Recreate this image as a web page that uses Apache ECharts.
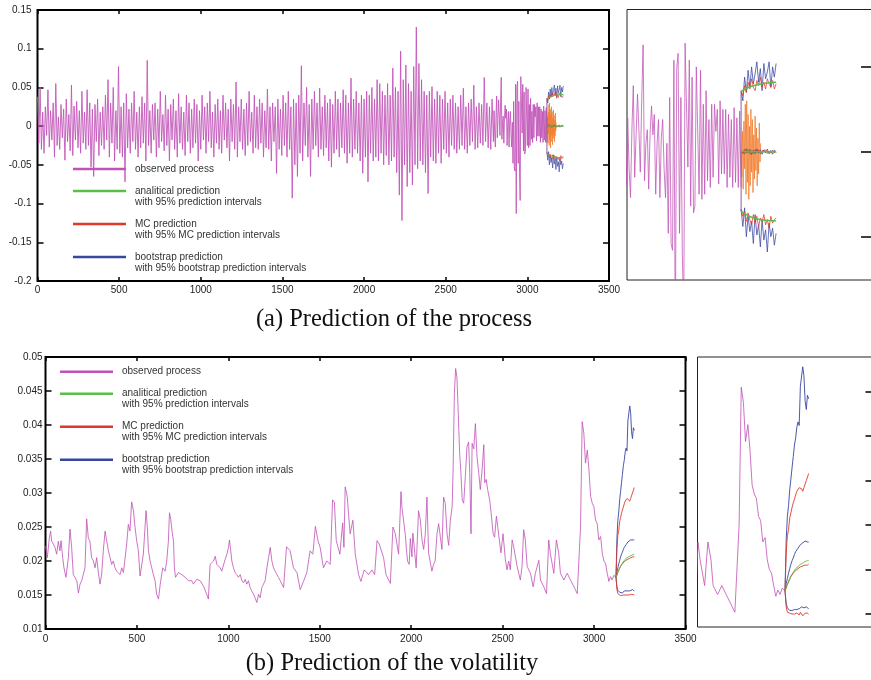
<!DOCTYPE html>
<html>
<head>
<meta charset="utf-8">
<script src="https://cdn.jsdelivr.net/npm/echarts@6/dist/echarts.min.js"></script>
<style>
  html, body { margin: 0; padding: 0; background: #fff; }
  #chart { width: 871px; height: 680px; }
</style>
</head>
<body>
<div id="chart"></div>
<script>
// ---------- (a) observed process ----------
// returns sampled every 8 steps from t = 0 to t = 2792
const processEarlyStep = 8;
const processEarly = [
  0.038, -0.022, 0.050, -0.030, 0.018, -0.035, 0.025, -0.012, 0.047, -0.027,
  0.020, -0.018, 0.030, -0.040, 0.055, -0.025, 0.012, -0.030, 0.028, -0.015,
  0.022, -0.044, 0.035, -0.020, 0.015, -0.032, 0.053, -0.038, 0.026, -0.018,
  0.032, -0.028, 0.020, -0.035, 0.045, -0.022, 0.018, -0.030, 0.047, -0.025,
  0.030, -0.053, 0.022, -0.065, 0.028, -0.020, 0.035, -0.038, 0.018, -0.025,
  0.025, -0.030, 0.040, -0.018, 0.060, -0.040, 0.030, -0.022, 0.050, -0.045,
  0.020, -0.030, 0.077, -0.035, 0.025, -0.040, 0.030, -0.072, 0.042, -0.028,
  0.022, -0.035, 0.030, -0.020, 0.045, -0.030, 0.018, -0.040, 0.025, -0.028,
  0.038, -0.022, 0.030, -0.045, 0.085, -0.025, 0.020, -0.035, 0.028, -0.018,
  0.030, -0.040, 0.022, -0.028, 0.045, -0.020, 0.015, -0.032, 0.040, -0.025,
  0.022, -0.045, 0.028, -0.018, 0.035, -0.030, 0.020, -0.040, 0.042, -0.022,
  0.025, -0.030, 0.018, -0.038, 0.040, -0.020, 0.030, -0.035, 0.022, -0.028,
  0.035, -0.022, 0.028, -0.045, 0.020, -0.030, 0.040, -0.018, 0.025, -0.035,
  0.030, -0.020, 0.045, -0.028, 0.018, -0.040, 0.028, -0.022, 0.035, -0.030,
  0.020, -0.035, 0.040, -0.018, 0.030, -0.028, 0.022, -0.045, 0.035, -0.020,
  0.028, -0.030, 0.057, -0.040, 0.025, -0.020, 0.035, -0.030, 0.022, -0.038,
  0.030, -0.025, 0.045, -0.020, 0.018, -0.035, 0.040, -0.028, 0.025, -0.030,
  0.035, -0.022, 0.030, -0.040, 0.020, -0.028, 0.048, -0.030, 0.025, -0.045,
  0.030, -0.020, 0.025, -0.061, 0.035, -0.030, 0.022, -0.038, 0.040, -0.025,
  0.030, -0.040, 0.045, -0.030, 0.025, -0.093, 0.035, -0.050, 0.030, -0.065,
  0.040, -0.035, 0.078, -0.045, 0.030, -0.025, 0.050, -0.040, 0.028, -0.065,
  0.035, -0.030, 0.045, -0.025, 0.030, -0.040, 0.049, -0.030, 0.025, -0.038,
  0.040, -0.028, 0.030, -0.045, 0.035, -0.053, 0.028, -0.035, 0.045, -0.030,
  0.035, -0.040, 0.030, -0.028, 0.047, -0.035, 0.040, -0.048, 0.030, -0.035,
  0.062, -0.040, 0.035, -0.030, 0.045, -0.035, 0.030, -0.045, 0.040, -0.061,
  0.035, -0.040, 0.045, -0.072, 0.040, -0.035, 0.050, -0.045, 0.035, -0.040,
  0.060, -0.045, 0.055, -0.035, 0.045, -0.050, 0.040, -0.038, 0.055, -0.050,
  0.040, -0.045, 0.075, -0.040, 0.050, -0.060, 0.045, -0.089, 0.097, -0.122,
  0.060, -0.050, 0.079, -0.078, 0.055, -0.060, 0.045, -0.076, 0.077, -0.050,
  0.128, -0.055, 0.081, -0.045, 0.060, -0.050, 0.045, -0.060, 0.040, -0.087,
  0.045, -0.040, 0.051, -0.045, 0.035, -0.048, 0.045, -0.035, 0.040, -0.048,
  0.035, -0.030, 0.045, -0.035, 0.030, -0.040, 0.035, -0.025, 0.040, -0.030,
  0.030, -0.035, 0.025, -0.030, 0.040, -0.025, 0.049, -0.030, 0.025, -0.035,
  0.030, -0.025, 0.035, -0.020, 0.053, -0.030, 0.025, -0.028, 0.030, -0.022,
  0.028, -0.025, 0.063, -0.020, 0.030, -0.028, 0.025, -0.030, 0.035, -0.020
];
// returns sampled every 4 steps from t = 2796 to t = 3120
const processLateStart = 2796;
const processLateStep = 4;
const processLate = [
  0.020, -0.010, -0.027, 0.013, 0.039, -0.015, 0.010, 0.034, 0.013, -0.012,
  0.030, 0.063, -0.017, 0.005, 0.013, -0.022, 0.011, 0.027, 0.010, 0.022,
  -0.025, 0.005, 0.019, -0.027, 0.008, 0.019, -0.010, -0.027, 0.005, -0.048,
  0.032, -0.054, -0.058, 0.054, -0.113, 0.049, 0.058, -0.048, 0.032, -0.060,
  -0.096, 0.064, 0.064, -0.009, 0.054, -0.032, 0.044, -0.036, -0.032, 0.050,
  0.050, -0.025, 0.048, -0.028, 0.028, -0.025, 0.036, -0.017, 0.019, -0.021,
  0.028, -0.015, 0.028, 0.012, 0.025, -0.019, 0.030, -0.013, 0.025, -0.013,
  0.025, -0.021, 0.022, -0.015, 0.019, -0.021, 0.026, -0.018, 0.020, -0.021,
  0.024, -0.021
];

// ---------- (a) forecasts, t = 3120 ... 3220 every 5 steps ----------
const predStart = 3120;
const predStep = 5;
const procAnalyticMean  = [0.0004, 0.0003, 0.0002, 0.0002, 0.0001, 0.0001, 0.0001, 0, 0, 0, 0, 0, 0, 0, 0, 0, 0, 0, 0, 0, 0];
const procAnalyticUpper = [0.0355, 0.0362, 0.0368, 0.0373, 0.0378, 0.0382, 0.0386, 0.0389, 0.0392, 0.0395, 0.0397, 0.0399, 0.0401, 0.0403, 0.0404, 0.0406, 0.0407, 0.0408, 0.0409, 0.0410, 0.0410];
const procAnalyticLower = [-0.0350, -0.0358, -0.0365, -0.0371, -0.0376, -0.0381, -0.0385, -0.0389, -0.0392, -0.0395, -0.0397, -0.0399, -0.0401, -0.0402, -0.0403, -0.0404, -0.0405, -0.0405, -0.0406, -0.0406, -0.0406];
const procMcMean  = [0.0004, -0.0010, 0.0015, -0.0008, 0.0012, -0.0014, 0.0006, -0.0009, 0.0013, -0.0005, 0.0010, -0.0012, 0.0007, -0.0004, 0.0011, -0.0010, 0.0005, -0.0008, 0.0009, -0.0006, 0.0004];
const procMcUpper = [0.036, 0.033, 0.039, 0.035, 0.041, 0.037, 0.043, 0.038, 0.036, 0.042, 0.039, 0.044, 0.038, 0.041, 0.037, 0.043, 0.040, 0.038, 0.042, 0.037, 0.040];
const procMcLower = [-0.034, -0.038, -0.035, -0.041, -0.036, -0.040, -0.043, -0.037, -0.042, -0.038, -0.044, -0.039, -0.041, -0.037, -0.043, -0.040, -0.045, -0.038, -0.042, -0.040, -0.039];
const procBootMean  = [0.0004, 0.0015, -0.0012, 0.0018, -0.0006, 0.0014, -0.0016, 0.0009, -0.0011, 0.0017, -0.0008, 0.0012, -0.0015, 0.0010, -0.0007, 0.0016, -0.0012, 0.0008, -0.0014, 0.0011, -0.0005];
const procBootUpper = [0.036, 0.030, 0.044, 0.035, 0.048, 0.038, 0.050, 0.040, 0.046, 0.053, 0.041, 0.049, 0.036, 0.052, 0.043, 0.047, 0.053, 0.038, 0.050, 0.044, 0.052];
const procBootLower = [-0.034, -0.044, -0.033, -0.050, -0.038, -0.047, -0.041, -0.054, -0.037, -0.049, -0.043, -0.056, -0.040, -0.052, -0.046, -0.059, -0.042, -0.050, -0.045, -0.055, -0.048];
// simulated Monte Carlo path, every 2 steps from t = 3120
const mcPathStep = 2;
const procMcPath = [0.000, -0.015, 0.012, -0.022, 0.018, -0.010, 0.028, -0.025, 0.030, -0.018,
  0.022, -0.028, 0.015, -0.020, 0.025, -0.012, 0.019, -0.024, 0.010, -0.016,
  0.021, -0.011, 0.014, -0.020, 0.008, -0.013, 0.017, -0.006, 0.005];

// ---------- (b) observed volatility ----------
const volT = [
  0, 10, 21, 28, 34, 43, 52, 61, 70, 79,
  85, 94, 101, 112, 125, 134, 143, 152, 161, 171,
  180, 189, 198, 207, 216, 225, 234, 243, 252, 262,
  271, 280, 289, 298, 307, 316, 326, 335, 344, 353,
  362, 371, 380, 389, 408, 417, 426, 444, 453, 462,
  471, 481, 490, 499, 508, 517, 526, 535, 550, 557,
  563, 572, 581, 590, 599, 608, 618, 627, 641, 654,
  663, 672, 678, 685, 692, 700, 705, 711, 727, 745,
  764, 782, 800, 809, 827, 846, 864, 882, 891, 900,
  919, 928, 937, 955, 964, 982, 992, 1001, 1006, 1013,
  1019, 1028, 1037, 1046, 1055, 1065, 1074, 1083, 1092, 1101,
  1110, 1119, 1128, 1138, 1147, 1156, 1165, 1174, 1183, 1192,
  1201, 1211, 1220, 1229, 1238, 1247, 1256, 1265, 1274, 1284,
  1293, 1302,
  1318, 1338, 1356, 1375, 1393, 1411, 1429,
  1447, 1462, 1476, 1490, 1502, 1520, 1538, 1557, 1570, 1580,
  1590, 1610, 1625, 1632, 1639, 1650, 1657, 1666, 1681, 1694,
  1712, 1725, 1743, 1767, 1785, 1800, 1813, 1825, 1849, 1862,
  1886, 1900, 1913, 1931, 1944, 1950, 1959, 1968, 1973, 1980,
  1989, 1995, 2004, 2009, 2016, 2027, 2040, 2050, 2059, 2068,
  2077, 2086, 2095, 2104, 2113, 2122, 2131, 2141, 2150, 2159,
  2168, 2177, 2186, 2196, 2205, 2214, 2224, 2229, 2236, 2243,
  2250, 2256, 2265, 2272, 2279, 2287, 2296, 2305, 2314, 2320,
  2327, 2333, 2342, 2351, 2360, 2369, 2378, 2388, 2397, 2402,
  2410, 2418, 2429, 2437, 2448, 2456, 2466, 2474, 2482, 2491,
  2502, 2515, 2524, 2533, 2542, 2552, 2561, 2570, 2579, 2588,
  2597, 2606, 2615, 2624, 2634, 2652, 2667, 2679, 2698, 2707,
  2725, 2740, 2752, 2761, 2780, 2794, 2807, 2816, 2835, 2853,
  2871, 2890, 2908, 2926, 2935, 2944, 2953, 2963, 2972, 2981,
  2990, 2999, 3008, 3017, 3026, 3036, 3045, 3054, 3063, 3072,
  3081, 3090, 3099, 3108, 3117, 3120
];
const volV = [
  0.0222, 0.0205, 0.0234, 0.0244, 0.0229, 0.0225, 0.0220, 0.0210, 0.0229, 0.0215,
  0.0230, 0.0205, 0.0190, 0.0176, 0.0205, 0.0247, 0.0220, 0.0180, 0.0176, 0.0171,
  0.0153, 0.0166, 0.0171, 0.0171, 0.0190, 0.0262, 0.0234, 0.0229, 0.0205, 0.0200,
  0.0190, 0.0205, 0.0183, 0.0166, 0.0180, 0.0215, 0.0244, 0.0229, 0.0215, 0.0205,
  0.0195, 0.0200, 0.0190, 0.0185, 0.0180, 0.0190, 0.0183, 0.0225, 0.0254, 0.0244,
  0.0287, 0.0274, 0.0249, 0.0229, 0.0215, 0.0178, 0.0176, 0.0210, 0.0274, 0.0249,
  0.0215, 0.0200, 0.0190, 0.0180, 0.0171, 0.0151, 0.0144, 0.0165, 0.0190, 0.0185,
  0.0200, 0.0229, 0.0271, 0.0261, 0.0244, 0.0229, 0.0190, 0.0176, 0.0183, 0.0180,
  0.0176, 0.0171, 0.0171, 0.0166, 0.0173, 0.0171, 0.0163, 0.0151, 0.0144, 0.0195,
  0.0200, 0.0207, 0.0195, 0.0190, 0.0185, 0.0202, 0.0210, 0.0220, 0.0231, 0.0215,
  0.0200, 0.0190, 0.0183, 0.0180, 0.0176, 0.0180, 0.0171, 0.0168, 0.0173, 0.0166,
  0.0171, 0.0161, 0.0156, 0.0151, 0.0149, 0.0139, 0.0151, 0.0146, 0.0161, 0.0166,
  0.0171, 0.0190, 0.0205, 0.0220, 0.0200, 0.0190, 0.0185, 0.0180, 0.0176, 0.0171,
  0.0166, 0.0161,
  0.0221, 0.0215, 0.0190, 0.0183, 0.0158, 0.0170, 0.0183,
  0.0215, 0.0210, 0.0251, 0.0230, 0.0220, 0.0190, 0.0200, 0.0195, 0.0290, 0.0286,
  0.0230, 0.0210, 0.0256, 0.0220, 0.0309, 0.0295, 0.0270, 0.0240, 0.0260, 0.0210,
  0.0180, 0.0170, 0.0187, 0.0180, 0.0187, 0.0180, 0.0230, 0.0225, 0.0205, 0.0180,
  0.0167, 0.0250, 0.0240, 0.0210, 0.0302, 0.0277, 0.0258, 0.0238, 0.0220, 0.0200,
  0.0195, 0.0233, 0.0206, 0.0241, 0.0222, 0.0190, 0.0274, 0.0260, 0.0231, 0.0217,
  0.0240, 0.0294, 0.0212, 0.0212, 0.0185, 0.0195, 0.0200, 0.0240, 0.0255, 0.0236,
  0.0217, 0.0294, 0.0285, 0.0240, 0.0223, 0.0260, 0.0280, 0.0334, 0.0446, 0.0483,
  0.0470, 0.0427, 0.0358, 0.0329, 0.0290, 0.0285, 0.0324, 0.0368, 0.0375, 0.0330,
  0.0240, 0.0373, 0.0365, 0.0402, 0.0353, 0.0330, 0.0305, 0.0335, 0.0371, 0.0315,
  0.0320, 0.0305, 0.0290, 0.0271, 0.0240, 0.0235, 0.0266, 0.0266, 0.0231, 0.0212,
  0.0240, 0.0202, 0.0187, 0.0200, 0.0187, 0.0231, 0.0220, 0.0220, 0.0192, 0.0182,
  0.0172, 0.0192, 0.0246, 0.0231, 0.0192, 0.0182, 0.0162, 0.0182, 0.0201, 0.0172,
  0.0162, 0.0152, 0.0231, 0.0211, 0.0182, 0.0231, 0.0211, 0.0182, 0.0172, 0.0182,
  0.0172, 0.0162, 0.0152, 0.0250, 0.0405, 0.0388, 0.0344, 0.0363, 0.0334, 0.0295,
  0.0285, 0.0280, 0.0260, 0.0255, 0.0231, 0.0236, 0.0211, 0.0200, 0.0196, 0.0182,
  0.0170, 0.0177, 0.0172, 0.0179, 0.0177, 0.0176
];

// ---------- (b) forecasts, t = 3120 ... 3220 every 5 steps ----------
const volAnalyticMean = [0.0176, 0.0180, 0.0184, 0.0187, 0.0190, 0.0193, 0.0195, 0.0197, 0.0199, 0.0201, 0.0202, 0.0203, 0.0205, 0.0206, 0.0207, 0.0207, 0.0208, 0.0209, 0.0209, 0.0210, 0.0210];
const volMcMean  = [0.0176, 0.0179, 0.0183, 0.0186, 0.0189, 0.0192, 0.0194, 0.0196, 0.0198, 0.0199, 0.0200, 0.0201, 0.0202, 0.0203, 0.0204, 0.0204, 0.0205, 0.0205, 0.0206, 0.0205, 0.0206];
const volMcUpper = [0.0176, 0.0218, 0.0238, 0.0245, 0.0258, 0.0264, 0.0270, 0.0275, 0.0279, 0.0284, 0.0288, 0.0290, 0.0292, 0.0294, 0.0291, 0.0288, 0.0292, 0.0294, 0.0300, 0.0298, 0.0308];
const volMcLower = [0.0176, 0.0158, 0.0152, 0.0150, 0.0151, 0.0149, 0.0150, 0.0148, 0.0150, 0.0149, 0.0151, 0.0150, 0.0149, 0.0152, 0.0150, 0.0148, 0.0150, 0.0151, 0.0149, 0.0151, 0.0150];
const volBootMean  = [0.0176, 0.0184, 0.0190, 0.0196, 0.0201, 0.0206, 0.0210, 0.0213, 0.0217, 0.0220, 0.0222, 0.0224, 0.0226, 0.0228, 0.0229, 0.0230, 0.0231, 0.0232, 0.0232, 0.0231, 0.0231];
const volBootUpper = [0.0176, 0.0233, 0.0260, 0.0272, 0.0290, 0.0302, 0.0315, 0.0327, 0.0340, 0.0348, 0.0360, 0.0366, 0.0362, 0.0406, 0.0404, 0.0428, 0.0418, 0.0390, 0.0380, 0.0396, 0.0392];
const volBootLower = [0.0176, 0.0162, 0.0157, 0.0155, 0.0154, 0.0155, 0.0154, 0.0153, 0.0155, 0.0156, 0.0155, 0.0157, 0.0156, 0.0158, 0.0158, 0.0156, 0.0157, 0.0155, 0.0158, 0.0157, 0.0156];

// ---------- legend text ----------
const seriesNames = ['observed process', 'analitical prediction', 'MC prediction', 'bootstrap prediction'];
const legendNotes = {
  'analitical prediction': 'with 95% prediction intervals',
  'MC prediction': 'with 95% MC prediction intervals',
  'bootstrap prediction': 'with 95% bootstrap prediction intervals'
};
const pathName = 'MC simulated path';
const captions = ['(a) Prediction of the process', '(b) Prediction of the volatility'];

// ---------- drawing ----------
const COLORS = {
  observed: '#c152b7',
  analytic: '#5abf46',
  mc: '#e0392b',
  boot: '#3846a0',
  path: '#f07a2a',
  joint: '#8d5c9c'
};
const SANS = '"Liberation Sans", Arial, Helvetica, sans-serif';
const SERIF = '"Liberation Serif", "Times New Roman", serif';

function pairs(values, start, step) {
  return values.map((v, i) => [start + i * step, v]);
}
const procObserved = pairs(processEarly, 0, processEarlyStep)
  .concat(pairs(processLate, processLateStart, processLateStep));
const volObserved = volT.map((t, i) => [t, volV[i]]);
const pred = arr => pairs(arr, predStart, predStep);

function line(name, data, axis, color, width, opacity) {
  return {
    type: 'line', name: name, data: data,
    xAxisIndex: axis, yAxisIndex: axis,
    symbol: 'none', showSymbol: false, silent: true, clip: true,
    animation: false,
    lineStyle: { color: color, width: width, opacity: opacity == null ? 1 : opacity },
    itemStyle: { color: color },
    emphasis: { disabled: true }
  };
}

function processSeries(axis, inset) {
  const w = inset ? 0.9 : 0.8;
  return [
    line(seriesNames[0], procObserved, axis, COLORS.observed, inset ? 0.9 : 1.0, 0.85),
    line(pathName, pairs(procMcPath, predStart, mcPathStep), axis, COLORS.path, w, 0.85),
    line(seriesNames[0], [[predStart, procAnalyticUpper[0]], [predStart, procAnalyticLower[0]]], axis, COLORS.joint, 1),
    line(seriesNames[3], pred(procBootUpper), axis, COLORS.boot, w, 0.85),
    line(seriesNames[3], pred(procBootMean), axis, COLORS.boot, w, 0.85),
    line(seriesNames[3], pred(procBootLower), axis, COLORS.boot, w, 0.85),
    line(seriesNames[2], pred(procMcUpper), axis, COLORS.mc, w, 0.85),
    line(seriesNames[2], pred(procMcMean), axis, COLORS.mc, w, 0.85),
    line(seriesNames[2], pred(procMcLower), axis, COLORS.mc, w, 0.85),
    line(seriesNames[1], pred(procAnalyticUpper), axis, COLORS.analytic, inset ? 1.6 : 1),
    line(seriesNames[1], pred(procAnalyticMean), axis, COLORS.analytic, inset ? 1.6 : 1),
    line(seriesNames[1], pred(procAnalyticLower), axis, COLORS.analytic, inset ? 1.6 : 1)
  ];
}

function volatilitySeries(axis) {
  return [
    line(seriesNames[0], volObserved, axis, COLORS.observed, 0.9, 0.9),
    line(seriesNames[3], pred(volBootUpper), axis, COLORS.boot, 0.9),
    line(seriesNames[3], pred(volBootMean), axis, COLORS.boot, 0.9),
    line(seriesNames[3], pred(volBootLower), axis, COLORS.boot, 0.9),
    line(seriesNames[2], pred(volMcUpper), axis, COLORS.mc, 0.9),
    line(seriesNames[2], pred(volMcMean), axis, COLORS.mc, 0.9),
    line(seriesNames[2], pred(volMcLower), axis, COLORS.mc, 0.9),
    line(seriesNames[1], pred(volAnalyticMean), axis, COLORS.analytic, 0.9)
  ];
}

const yFmt = v => String(Math.round(v * 1000) / 1000);
const xFmt = v => String(Math.round(v));
const tickIn = len => ({ show: true, inside: true, length: len, lineStyle: { color: '#000', width: 1.5 } });
const noSplit = { show: false };
const noLine = { show: false, onZero: false };

function mainX(grid, position, withLabels, margin) {
  return {
    gridIndex: grid, type: 'value', min: 0, max: 3500, interval: 500, position: position,
    axisLine: noLine, axisTick: tickIn(4), splitLine: noSplit,
    axisLabel: withLabels
      ? { show: true, margin: margin, formatter: xFmt, fontFamily: SANS, fontSize: 10, color: '#222' }
      : { show: false }
  };
}
function mainY(grid, position, min, max, interval, withLabels, margin) {
  return {
    gridIndex: grid, type: 'value', min: min, max: max, interval: interval, position: position,
    axisLine: noLine, axisTick: tickIn(6), splitLine: noSplit,
    axisLabel: withLabels
      ? { show: true, margin: margin, formatter: yFmt, fontFamily: SANS, fontSize: 10, color: '#222' }
      : { show: false }
  };
}
function insetX(grid, min, max) {
  return { gridIndex: grid, type: 'value', min: min, max: max, show: false, axisLine: noLine };
}
function insetY(grid, min, max, ticks, len) {
  return {
    gridIndex: grid, type: 'value', min: min, max: max, position: 'right',
    axisLine: noLine, axisLabel: { show: false }, splitLine: noSplit,
    axisTick: { show: true, inside: true, length: len, customValues: ticks, lineStyle: { color: '#000', width: 1.5 } }
  };
}

function legendAt(left, top) {
  return {
    orient: 'vertical', left: left, top: top, padding: 0, itemGap: 0,
    itemWidth: 53, itemHeight: 2.5, icon: 'rect', selectedMode: false,
    data: seriesNames,
    formatter: name => legendNotes[name] ? '\n' + name + '\n' + legendNotes[name] : name,
    textStyle: { fontFamily: SANS, fontSize: 10, color: '#333', lineHeight: 11, padding: [0, 0, 0, 4] }
  };
}

function caption(text, x, y) {
  return {
    type: 'text', x: x, y: y, silent: true,
    style: { text: text, fontFamily: SERIF, fontSize: 24.5, fill: '#111',
             align: 'center', verticalAlign: 'middle', textAlign: 'center', textVerticalAlign: 'middle' }
  };
}

const option = {
  backgroundColor: '#ffffff',
  animation: false,
  grid: [
    { left: 37.5, top: 10, width: 571.5, height: 271, show: true, borderColor: '#000', borderWidth: 2, containLabel: false, outerBoundsMode: 'none' },
    { left: 627, top: 9.5, width: 245, height: 270.5, show: true, borderColor: '#222', borderWidth: 1, containLabel: false, outerBoundsMode: 'none' },
    { left: 45.5, top: 357, width: 640, height: 272, show: true, borderColor: '#000', borderWidth: 2, containLabel: false, outerBoundsMode: 'none' },
    { left: 697.5, top: 357, width: 175, height: 270, show: true, borderColor: '#222', borderWidth: 1, containLabel: false, outerBoundsMode: 'none' }
  ],
  xAxis: [
    mainX(0, 'bottom', true, 4),
    insetX(1, 2794, 3494),
    mainX(2, 'bottom', true, 5),
    insetX(3, 2750, 3490),
    mainX(0, 'top', false),
    mainX(2, 'top', false)
  ],
  yAxis: [
    mainY(0, 'left', -0.2, 0.15, 0.05, true, 6),
    insetY(1, -0.0755, 0.0838, [-0.05, 0, 0.05], 11),
    mainY(2, 'left', 0.01, 0.05, 0.005, true, 3),
    insetY(3, 0.01354, 0.0439, [0.015, 0.02, 0.025, 0.03, 0.035, 0.04], 7),
    mainY(0, 'right', -0.2, 0.15, 0.05, false),
    mainY(2, 'right', 0.01, 0.05, 0.005, false)
  ],
  legend: [legendAt(73, 163.5), legendAt(60, 366.2)],
  graphic: [
    caption(captions[0], 394, 320),
    caption(captions[1], 392, 664)
  ],
  series: [].concat(
    processSeries(0, false),
    processSeries(1, true),
    volatilitySeries(2),
    volatilitySeries(3)
  )
};

const chart = echarts.init(document.getElementById('chart'), null, { renderer: 'canvas', width: 871, height: 680 });
chart.setOption(option);
</script>
</body>
</html>
